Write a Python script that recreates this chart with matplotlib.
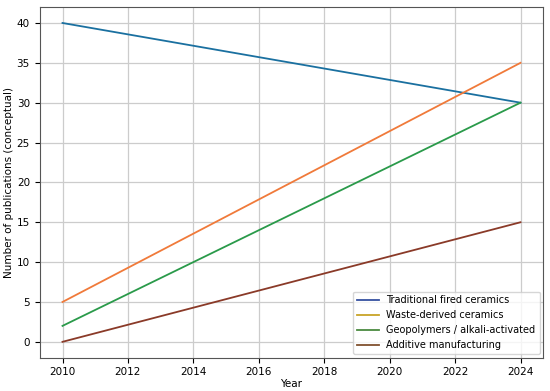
import matplotlib
matplotlib.use("Agg")
import matplotlib.pyplot as plt
from matplotlib.lines import Line2D

years = [2010, 2024]
traditional = [40, 30]
waste_derived = [5, 35]
geopolymers = [2, 30]
additive = [0, 15]

labels = ["Traditional fired ceramics", "Waste-derived ceramics",
          "Geopolymers / alkali-activated", "Additive manufacturing"]
line_colors = ["#1a70a0", "#f07a3a", "#2a9a4a", "#8a3a28"]
legend_colors = ["#3550a0", "#c8a428", "#4a8a40", "#80502e"]

plt.rcParams["font.size"] = 7.5

fig, ax = plt.subplots(figsize=(5.5, 3.91), dpi=100)
for vals, c in zip([traditional, waste_derived, geopolymers, additive], line_colors):
    ax.plot(years, vals, color=c, linewidth=1.3)

ax.set_xlabel("Year", labelpad=1)
ax.set_ylabel("Number of publications (conceptual)", labelpad=2)
ax.set_xticks(range(2010, 2025, 2))
ax.grid(True, color="#cccccc", linewidth=0.9)
for s in ax.spines.values():
    s.set_color("#555555")

handles = [Line2D([0], [0], color=c, linewidth=1.3) for c in legend_colors]
ax.legend(handles, labels, loc="lower right", fontsize=7, handlelength=2.2,
          borderaxespad=0.4)

fig.subplots_adjust(left=0.072, right=0.988, top=0.982, bottom=0.085)
fig.savefig("out.png")
